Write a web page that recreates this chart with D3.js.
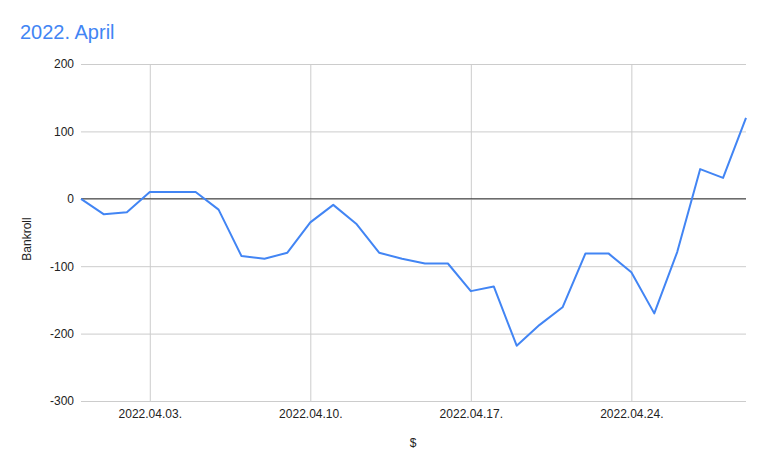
<!DOCTYPE html>
<html>
<head>
<meta charset="utf-8">
<script src="https://cdn.jsdelivr.net/npm/d3@7"></script>
<style>
  body { margin: 0; background: #fff; }
  svg { display: block; font-family: Arial, "Liberation Sans", sans-serif; }
</style>
</head>
<body>
<svg id="chart" width="767" height="470"></svg>
<script>
// days of the series (one point per day)
var days = [
  "2022-03-31", "2022-04-01", "2022-04-02", "2022-04-03", "2022-04-04",
  "2022-04-05", "2022-04-06", "2022-04-07", "2022-04-08", "2022-04-09",
  "2022-04-10", "2022-04-11", "2022-04-12", "2022-04-13", "2022-04-14",
  "2022-04-15", "2022-04-16", "2022-04-17", "2022-04-18", "2022-04-19",
  "2022-04-20", "2022-04-21", "2022-04-22", "2022-04-23", "2022-04-24",
  "2022-04-25", "2022-04-26", "2022-04-27", "2022-04-28", "2022-04-29"
];

// bankroll in $
var bankroll = [
  0, -23, -20, 10, 10, 10, -16, -85, -89, -80,
  -35, -9, -37, -80, -89, -96, -96, -137, -130, -218,
  -187, -161, -81, -81, -109, -170, -79, 44, 31, 120
];

var xTicks = ["2022-04-03", "2022-04-10", "2022-04-17", "2022-04-24"];
var yTicks = [200, 100, 0, -100, -200, -300];

var parseDay = d3.timeParse("%Y-%m-%d");
var fmtDay = d3.timeFormat("%Y.%m.%d.");

var data = days.map(function(d, i) { return {date: parseDay(d), value: bankroll[i]}; });

var svg = d3.select("#chart");
// plot area (window.top is reserved, so use other names)
var plotL = 81, plotR = 746, plotT = 64, plotB = 401;

var x = d3.scaleTime()
  .domain(d3.extent(data, function(d) { return d.date; }))
  .range([plotL, plotR]);

var y = d3.scaleLinear()
  .domain([-300, 200])
  .range([plotB, plotT]);

// title
svg.append("text")
  .attr("x", 20).attr("y", 39)
  .attr("fill", "#4285f4")
  .style("font-size", "20px")
  .text("2022. April");

// horizontal gridlines + y labels (plain hyphen for negatives, like the original)
var yAxis = d3.axisLeft(y)
  .tickValues(yTicks)
  .tickFormat(function(d) { return String(d); })
  .tickSize(-(plotR - plotL))
  .tickPadding(7);
var gy = svg.append("g").attr("transform", "translate(" + plotL + ",0)").call(yAxis);
gy.select(".domain").remove();
gy.selectAll(".tick line").attr("stroke", "#cccccc");
gy.selectAll(".tick text").attr("fill", "#222").style("font-size", "12px").attr("font-family", null);

// vertical gridlines + x labels
var xAxis = d3.axisBottom(x)
  .tickValues(xTicks.map(parseDay))
  .tickFormat(fmtDay)
  .tickSize(-(plotB - plotT))
  .tickPadding(8);
var gx = svg.append("g").attr("transform", "translate(0," + plotB + ")").call(xAxis);
gx.select(".domain").remove();
gx.selectAll(".tick line").attr("stroke", "#cccccc");
gx.selectAll(".tick text").attr("fill", "#222").style("font-size", "12px").attr("font-family", null);

// baseline at zero
svg.append("line")
  .attr("x1", plotL).attr("x2", plotR)
  .attr("y1", y(0)).attr("y2", y(0))
  .attr("stroke", "#333");

// the series
var line = d3.line()
  .x(function(d) { return x(d.date); })
  .y(function(d) { return y(d.value); });

svg.append("path")
  .datum(data)
  .attr("fill", "none")
  .attr("stroke", "#4285f4")
  .attr("stroke-width", 2)
  .attr("stroke-linejoin", "round")
  .attr("d", line);

// axis titles
svg.append("text")
  .attr("transform", "translate(31,239) rotate(-90)")
  .attr("text-anchor", "middle")
  .attr("fill", "#222")
  .style("font-size", "12px")
  .text("Bankroll");

svg.append("text")
  .attr("x", 413).attr("y", 447)
  .attr("text-anchor", "middle")
  .attr("fill", "#222")
  .style("font-size", "12px")
  .text("$");
</script>
</body>
</html>
